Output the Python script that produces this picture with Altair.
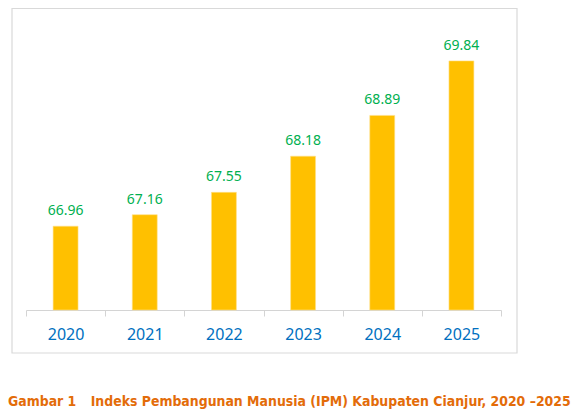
import altair as alt
import pandas as pd

years = ["2020", "2021", "2022", "2023", "2024", "2025"]
ipm = [66.96, 67.16, 67.55, 68.18, 68.89, 69.84]
y_min, y_max = 65.5, 70.5

caption_no = "Gambar 1"
caption_text = "Indeks Pembangunan Manusia (IPM) Kabupaten Cianjur, 2020 \u20132025"

df = pd.DataFrame({"year": years, "ipm": ipm})

base = alt.Chart(df).encode(
    alt.X("year:O", scale=alt.Scale(paddingInner=0, paddingOuter=0))
        .axis(title=None, labelAngle=0, ticks=True, tickBand="extent", tickSize=6, labelPadding=10,
              labelColor="#0070C0", labelFont="Noto Sans", labelFontSize=16,
              domainColor="#D4D4D4", tickColor="#D4D4D4", tickWidth=1, grid=False),
    alt.Y("ipm:Q", scale=alt.Scale(domain=[y_min, y_max], zero=False, nice=False)).axis(None),
)

bars = base.mark_bar(color="#FFC000", stroke="#FFE08A", strokeWidth=0.6,
                     width=alt.RelativeBandSize(0.315)).encode(y2=alt.datum(y_min))

labels = base.mark_text(dy=-15, baseline="middle", font="Noto Sans", fontSize=14, color="#00B050").encode(
    text=alt.Text("ipm:Q", format=".2f")
)

# light frame around the chart block
frame = alt.Chart(pd.DataFrame({"a": [0]})).mark_rect(
    fill="transparent", stroke="#D9D9D9", strokeWidth=1.2
).encode(x=alt.value(-14), x2=alt.value(491), y=alt.value(-14.5), y2=alt.value(330))

cap_style = dict(align="left", baseline="middle", font="DejaVu Sans Condensed",
                 fontWeight="bold", fontSize=13.9, color="#E36C09")
cap1 = alt.Chart(pd.DataFrame({"t": [caption_no]})).mark_text(**cap_style).encode(
    text="t:N", x=alt.value(-18), y=alt.value(379))
cap2 = alt.Chart(pd.DataFrame({"t": [caption_text]})).mark_text(**cap_style).encode(
    text="t:N", x=alt.value(64.7), y=alt.value(379))

chart = (frame + bars + labels + cap1 + cap2).properties(
    width=475, height=287, autosize="none",
    padding={"left": 18, "top": 15, "right": 70, "bottom": 99},
).configure_view(stroke="transparent")

chart.save("out.html", embed_options={"renderer": "svg", "actions": False})
